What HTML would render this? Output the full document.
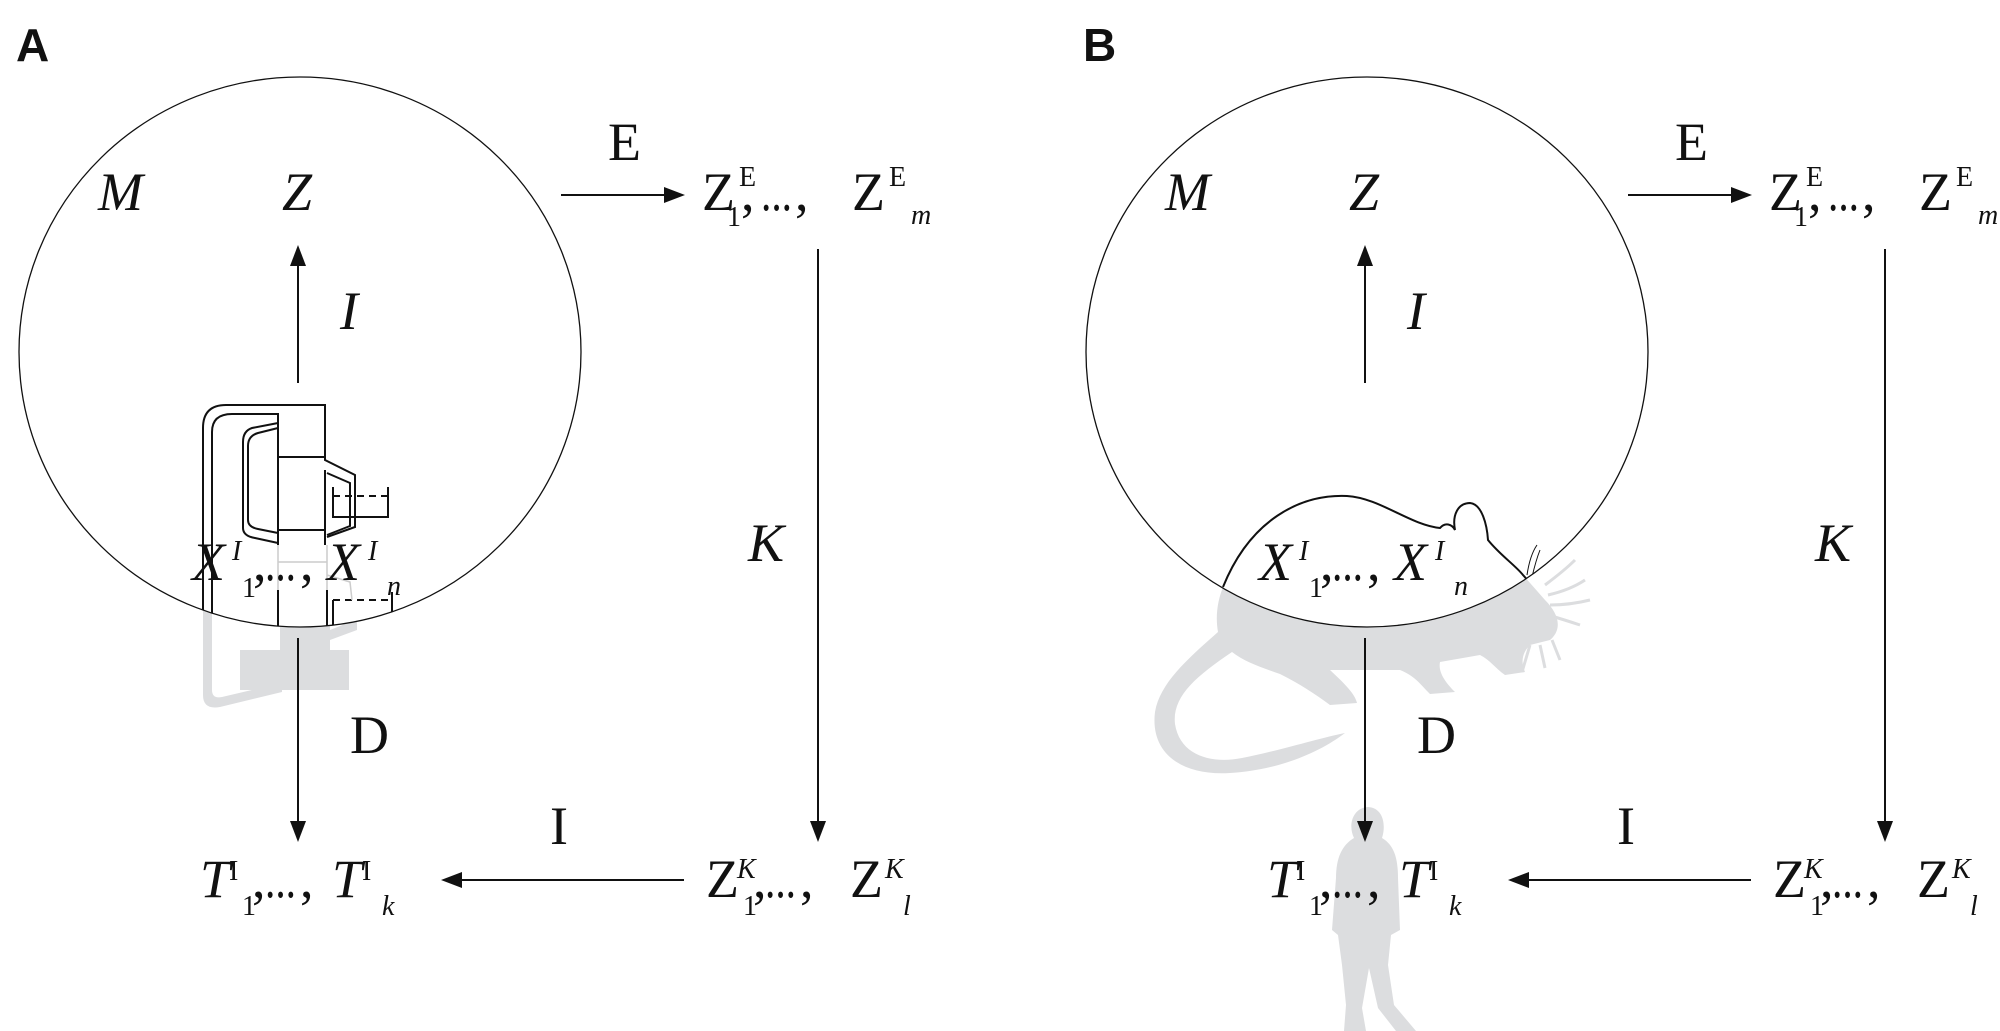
<!DOCTYPE html>
<html><head><meta charset="utf-8"><style>
html,body{margin:0;padding:0;background:#fff;}
svg{display:block;}
text{font-family:"Liberation Serif",serif;fill:#111;}
.it{font-style:italic;}
.big{font-size:54px;}
.sm{font-size:28px;}
.lab{font-family:"Liberation Sans",sans-serif;font-weight:bold;font-size:46px;}
</style></head><body>
<svg width="2000" height="1031" viewBox="0 0 2000 1031" xmlns="http://www.w3.org/2000/svg">
<defs>
<clipPath id="cA"><ellipse cx="300" cy="352" rx="281" ry="275"/></clipPath>
<clipPath id="cB"><ellipse cx="1367" cy="352" rx="281" ry="275"/></clipPath>
</defs>

<!-- ============ Panel A ============ -->
<text class="lab" x="16" y="61">A</text>
<g fill="#dcdddf" stroke="none">
<path d="M203,600 L203,695 Q203,710 220,707 L282,692 L282,683 L222,697 Q212,699 212,690 L212,600 Z"/>
<rect x="240" y="650" width="109" height="40"/>
<rect x="280" y="600" width="50" height="55"/>
<path d="M330,640 L357,630 L357,612 L394,612 L394,598 L333,598 L333,612 L345,612 L345,624 L330,630 Z"/>
</g>
<ellipse cx="300" cy="352" rx="281" ry="275" fill="#fff" stroke="#111" stroke-width="1.3"/>
<g clip-path="url(#cA)" fill="none" stroke="#111" stroke-width="2">
<path d="M203,640 L203,428 Q203,405 226,405 L325,405 L325,460 L355,475 L355,527 L327,537"/>
<path d="M212,640 L212,432 Q212,414 232,414 L278,414 L278,423 L252,428 Q243,431 243,442 L243,528 Q243,536 255,538 L278,543"/>
<path d="M278,428 L258,433 Q248,436 248,446 L248,520 Q248,527 258,529 L278,533"/>
<path d="M278,457 L325,457 M278,530 L325,530 M278,423 L278,545 M325,470 L325,545"/>
<path d="M327,473 L350,483 L350,526 L327,535"/>
<path d="M333,487 L333,517 L388,517 L388,487"/>
<path d="M333,496 L388,496" stroke-dasharray="7,5"/>
<path d="M278,590 L278,640 M327,590 L327,640 M333,600 L333,640 M392,592 L392,620"/>
<path d="M333,600 L392,600" stroke-dasharray="7,5"/>
</g>
<g stroke="#ccc" stroke-width="1.5" fill="none">
<path d="M278,545 L278,590 M327,545 L327,590 M278,562 L327,562 M327,575 L350,582 L352,600"/>
</g>

<g stroke="#111" stroke-width="2" fill="#111">
<line x1="298" y1="383" x2="298" y2="262"/>
<polygon points="298,245 290,266 306,266" stroke="none"/>
<line x1="561" y1="195" x2="668" y2="195"/>
<polygon points="685,195 664,187 664,203" stroke="none"/>
<line x1="818" y1="249" x2="818" y2="825"/>
<polygon points="818,842 810,821 826,821" stroke="none"/>
<line x1="298" y1="638" x2="298" y2="825"/>
<polygon points="298,842 290,821 306,821" stroke="none"/>
<line x1="684" y1="880" x2="458" y2="880"/>
<polygon points="441,880 462,872 462,888" stroke="none"/>
</g>

<text class="big it" x="98" y="210">M</text>
<text class="big it" x="282" y="210">Z</text>
<text class="big it" x="340" y="329">I</text>
<text class="big" x="608" y="160">E</text>
<text class="big it" x="748" y="561">K</text>
<text class="big" x="350" y="753">D</text>
<text class="big" x="550" y="844">I</text>

<!-- Z^E row -->
<text class="big" x="702" y="210">Z</text>
<text class="sm" x="739" y="186">E</text>
<text class="sm" x="727" y="226">1</text>
<text class="big" x="741" y="210">,</text>
<text class="big" x="761" y="210" textLength="31" lengthAdjust="spacingAndGlyphs">...</text>
<text class="big" x="795" y="210">,</text>
<text class="big" x="852" y="210">Z</text>
<text class="sm" x="889" y="186">E</text>
<text class="sm it" x="911" y="224">m</text>

<!-- X row -->
<text class="big it" x="192" y="580">X</text>
<text class="sm it" x="232" y="560">I</text>
<text class="sm" x="242" y="597">1</text>
<text class="big" x="253" y="580">,</text>
<text class="big" x="265" y="580" textLength="31" lengthAdjust="spacingAndGlyphs">...</text>
<text class="big" x="300" y="580">,</text>
<text class="big it" x="327" y="580">X</text>
<text class="sm it" x="368" y="560">I</text>
<text class="sm it" x="387" y="595">n</text>

<!-- T row -->
<text class="big it" x="200" y="897">T</text>
<text class="sm" x="229" y="880">I</text>
<text class="sm" x="242" y="915">1</text>
<text class="big" x="252" y="897">,</text>
<text class="big" x="265" y="897" textLength="31" lengthAdjust="spacingAndGlyphs">...</text>
<text class="big" x="300" y="897">,</text>
<text class="big it" x="332" y="897">T</text>
<text class="sm" x="362" y="880">I</text>
<text class="sm it" x="382" y="915">k</text>

<!-- Z^K row -->
<text class="big" x="706" y="897">Z</text>
<text class="sm it" x="737" y="878">K</text>
<text class="sm" x="743" y="915">1</text>
<text class="big" x="753" y="897">,</text>
<text class="big" x="765" y="897" textLength="31" lengthAdjust="spacingAndGlyphs">...</text>
<text class="big" x="800" y="897">,</text>
<text class="big" x="850" y="897">Z</text>
<text class="sm it" x="885" y="878">K</text>
<text class="sm it" x="903" y="915">l</text>

<!-- ============ Panel B ============ -->
<text class="lab" x="1083" y="61">B</text>
<g fill="#dcdddf" stroke="none">
<path d="M1223,587 C1250,520 1300,494 1347,496 C1380,498 1410,525 1440,528 C1445,522 1452,524 1455,530 C1452,515 1458,503 1470,503 C1482,504 1487,525 1488,540 C1500,555 1515,565 1523,575 L1545,600 C1560,615 1562,630 1550,640 L1530,645 C1520,655 1522,665 1525,672 L1505,675 C1495,668 1490,660 1480,655 L1440,662 C1438,672 1445,682 1455,692 L1430,694 C1420,684 1415,676 1400,670 L1330,670 C1345,684 1355,694 1357,703 L1330,705 C1315,694 1300,684 1280,674 C1260,667 1245,662 1232,652 C1195,677 1172,697 1175,724 C1180,756 1212,764 1242,758 C1282,750 1320,738 1345,733 C1320,752 1280,770 1230,773 C1180,776 1150,752 1155,712 C1160,682 1190,657 1218,632 C1215,615 1218,600 1223,587 Z"/>
<path d="M1354,838 C1348,826 1352,808 1368,807 C1384,808 1386,826 1382,838 C1394,845 1398,858 1398,878 L1400,930 L1391,935 L1388,965 L1394,1005 L1416,1031 L1396,1031 L1378,1008 L1369,968 L1362,1008 L1366,1031 L1344,1031 L1346,1005 L1342,965 L1338,935 L1332,930 L1336,878 C1336,858 1342,845 1354,838 Z"/>
</g>
<g stroke="#dcdddf" stroke-width="3" fill="none">
<path d="M1545,585 Q1565,570 1575,560 M1548,595 Q1570,590 1585,580 M1550,605 Q1570,605 1590,600 M1548,615 Q1565,620 1580,625 M1520,640 L1500,665 M1512,642 L1490,660 M1530,645 L1522,672 M1540,645 L1545,668 M1552,640 L1560,660"/>
</g>
<ellipse cx="1367" cy="352" rx="281" ry="275" fill="#fff" stroke="#111" stroke-width="1.3"/>
<g clip-path="url(#cB)" fill="none" stroke="#111" stroke-width="2">
<path d="M1223,587 C1250,520 1300,494 1347,496 C1380,498 1410,525 1440,528 C1445,522 1452,524 1455,530 C1452,515 1458,503 1470,503 C1482,504 1487,525 1488,540 C1500,555 1515,565 1523,575 L1545,600 C1560,615 1562,630 1550,640"/>
<path d="M1527,575 Q1530,555 1537,545 M1532,577 Q1536,560 1540,550" stroke-width="1"/>
</g>

<g stroke="#111" stroke-width="2" fill="#111">
<line x1="1365" y1="383" x2="1365" y2="262"/>
<polygon points="1365,245 1357,266 1373,266" stroke="none"/>
<line x1="1628" y1="195" x2="1735" y2="195"/>
<polygon points="1752,195 1731,187 1731,203" stroke="none"/>
<line x1="1885" y1="249" x2="1885" y2="825"/>
<polygon points="1885,842 1877,821 1893,821" stroke="none"/>
<line x1="1365" y1="638" x2="1365" y2="825"/>
<polygon points="1365,842 1357,821 1373,821" stroke="none"/>
<line x1="1751" y1="880" x2="1525" y2="880"/>
<polygon points="1508,880 1529,872 1529,888" stroke="none"/>
</g>

<text class="big it" x="1165" y="210">M</text>
<text class="big it" x="1349" y="210">Z</text>
<text class="big it" x="1407" y="329">I</text>
<text class="big" x="1675" y="160">E</text>
<text class="big it" x="1815" y="561">K</text>
<text class="big" x="1417" y="753">D</text>
<text class="big" x="1617" y="844">I</text>

<text class="big" x="1769" y="210">Z</text>
<text class="sm" x="1806" y="186">E</text>
<text class="sm" x="1794" y="226">1</text>
<text class="big" x="1808" y="210">,</text>
<text class="big" x="1828" y="210" textLength="31" lengthAdjust="spacingAndGlyphs">...</text>
<text class="big" x="1862" y="210">,</text>
<text class="big" x="1919" y="210">Z</text>
<text class="sm" x="1956" y="186">E</text>
<text class="sm it" x="1978" y="224">m</text>

<text class="big it" x="1259" y="580">X</text>
<text class="sm it" x="1299" y="560">I</text>
<text class="sm" x="1309" y="597">1</text>
<text class="big" x="1320" y="580">,</text>
<text class="big" x="1332" y="580" textLength="31" lengthAdjust="spacingAndGlyphs">...</text>
<text class="big" x="1367" y="580">,</text>
<text class="big it" x="1394" y="580">X</text>
<text class="sm it" x="1435" y="560">I</text>
<text class="sm it" x="1454" y="595">n</text>

<text class="big it" x="1267" y="897">T</text>
<text class="sm" x="1296" y="880">I</text>
<text class="sm" x="1309" y="915">1</text>
<text class="big" x="1319" y="897">,</text>
<text class="big" x="1332" y="897" textLength="31" lengthAdjust="spacingAndGlyphs">...</text>
<text class="big" x="1367" y="897">,</text>
<text class="big it" x="1399" y="897">T</text>
<text class="sm" x="1429" y="880">I</text>
<text class="sm it" x="1449" y="915">k</text>

<text class="big" x="1773" y="897">Z</text>
<text class="sm it" x="1804" y="878">K</text>
<text class="sm" x="1810" y="915">1</text>
<text class="big" x="1820" y="897">,</text>
<text class="big" x="1832" y="897" textLength="31" lengthAdjust="spacingAndGlyphs">...</text>
<text class="big" x="1867" y="897">,</text>
<text class="big" x="1917" y="897">Z</text>
<text class="sm it" x="1952" y="878">K</text>
<text class="sm it" x="1970" y="915">l</text>
</svg>
</body></html>
